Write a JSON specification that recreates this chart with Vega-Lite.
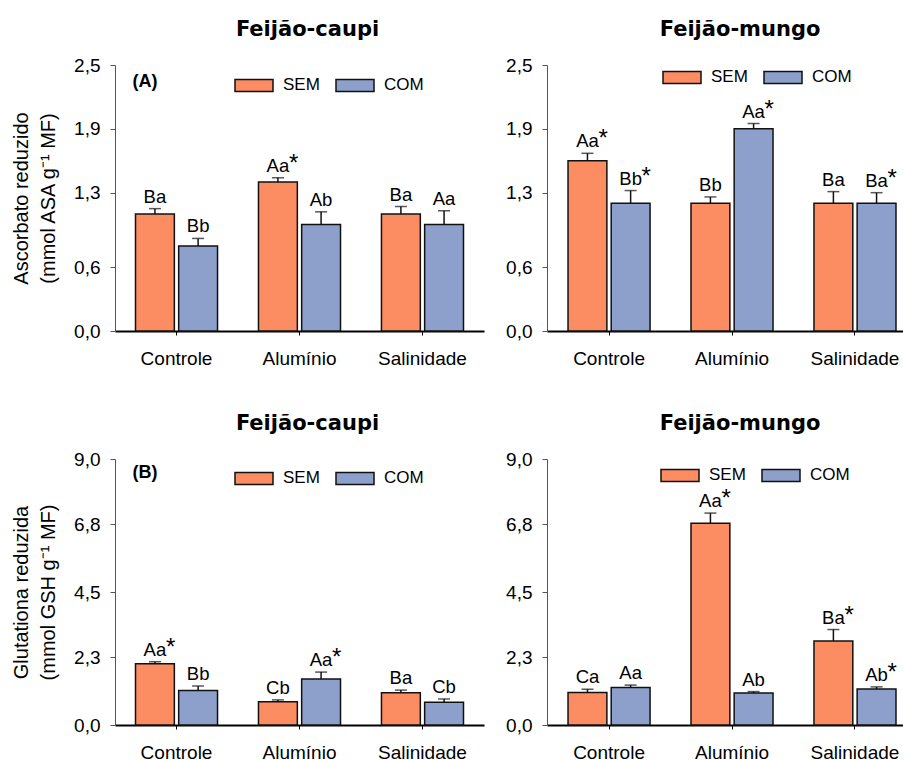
{
  "$schema": "https://vega.github.io/schema/vega-lite/v6.json",
  "padding": {"left": 11, "top": 19, "right": 0, "bottom": 0},
  "background": "white",
  "config": {
    "view": {"stroke": null},
    "font": "Liberation Sans",
    "axis": {"grid": false, "labelFont": "Liberation Sans", "titleFont": "Liberation Sans", "labelColor": "#000", "titleColor": "#000"},
    "title": {"font": "DejaVu Sans", "fontWeight": "bold", "fontSize": 21, "color": "#000", "anchor": "middle", "offset": 16},
    "concat": {"spacing": 21}
  },
  "datasets": {
    "caupi_asa": [
      {"trat": "Controle", "cond": "SEM", "valor": 1.10, "sup": 1.15, "rotulo": "Ba", "ast": ""},
      {"trat": "Controle", "cond": "COM", "valor": 0.80, "sup": 0.87, "rotulo": "Bb", "ast": ""},
      {"trat": "Alumínio", "cond": "SEM", "valor": 1.40, "sup": 1.44, "rotulo": "Aa", "ast": "*"},
      {"trat": "Alumínio", "cond": "COM", "valor": 1.00, "sup": 1.12, "rotulo": "Ab", "ast": ""},
      {"trat": "Salinidade", "cond": "SEM", "valor": 1.10, "sup": 1.17, "rotulo": "Ba", "ast": ""},
      {"trat": "Salinidade", "cond": "COM", "valor": 1.00, "sup": 1.13, "rotulo": "Aa", "ast": ""}
    ],
    "mungo_asa": [
      {"trat": "Controle", "cond": "SEM", "valor": 1.60, "sup": 1.67, "rotulo": "Aa", "ast": "*"},
      {"trat": "Controle", "cond": "COM", "valor": 1.20, "sup": 1.32, "rotulo": "Bb", "ast": "*"},
      {"trat": "Alumínio", "cond": "SEM", "valor": 1.20, "sup": 1.26, "rotulo": "Bb", "ast": ""},
      {"trat": "Alumínio", "cond": "COM", "valor": 1.90, "sup": 1.95, "rotulo": "Aa", "ast": "*"},
      {"trat": "Salinidade", "cond": "SEM", "valor": 1.20, "sup": 1.31, "rotulo": "Ba", "ast": ""},
      {"trat": "Salinidade", "cond": "COM", "valor": 1.20, "sup": 1.30, "rotulo": "Ba", "ast": "*"}
    ],
    "caupi_gsh": [
      {"trat": "Controle", "cond": "SEM", "valor": 2.07, "sup": 2.14, "rotulo": "Aa", "ast": "*"},
      {"trat": "Controle", "cond": "COM", "valor": 1.17, "sup": 1.32, "rotulo": "Bb", "ast": ""},
      {"trat": "Alumínio", "cond": "SEM", "valor": 0.79, "sup": 0.85, "rotulo": "Cb", "ast": ""},
      {"trat": "Alumínio", "cond": "COM", "valor": 1.56, "sup": 1.79, "rotulo": "Aa", "ast": "*"},
      {"trat": "Salinidade", "cond": "SEM", "valor": 1.09, "sup": 1.18, "rotulo": "Ba", "ast": ""},
      {"trat": "Salinidade", "cond": "COM", "valor": 0.77, "sup": 0.88, "rotulo": "Cb", "ast": ""}
    ],
    "mungo_gsh": [
      {"trat": "Controle", "cond": "SEM", "valor": 1.10, "sup": 1.21, "rotulo": "Ca", "ast": ""},
      {"trat": "Controle", "cond": "COM", "valor": 1.27, "sup": 1.35, "rotulo": "Aa", "ast": ""},
      {"trat": "Alumínio", "cond": "SEM", "valor": 6.83, "sup": 7.17, "rotulo": "Aa", "ast": "*"},
      {"trat": "Alumínio", "cond": "COM", "valor": 1.08, "sup": 1.13, "rotulo": "Ab", "ast": ""},
      {"trat": "Salinidade", "cond": "SEM", "valor": 2.84, "sup": 3.23, "rotulo": "Ba", "ast": "*"},
      {"trat": "Salinidade", "cond": "COM", "valor": 1.22, "sup": 1.29, "rotulo": "Ab", "ast": "*"}
    ],
    "paineis": [
      {"painel": "A", "trat": "Controle", "valor": 2.34, "rotulo": "(A)"},
      {"painel": "B", "trat": "Controle", "valor": 8.53, "rotulo": "(B)"}
    ]
  },
  "vconcat": [
    {
      "hconcat": [
        {
          "width": 369, "height": 266,
          "title": {"text": "Feijão-caupi", "dx": 8},
          "layer": [
            {
              "data": {"name": "caupi_asa"},
              "mark": {"type": "bar", "stroke": "#111", "strokeWidth": 1.5},
              "encoding": {
                "x": {"field": "trat", "type": "nominal", "scale": {"domain": ["Controle", "Alumínio", "Salinidade"], "paddingInner": 0.333, "paddingOuter": 0.1667},
                      "axis": {"title": null, "labelAngle": 0, "labelFontSize": 19, "labelPadding": 14, "tickSize": 4, "tickColor": "#000", "domainColor": "#000", "domainWidth": 2}},
                "xOffset": {"field": "cond", "type": "nominal", "scale": {"domain": ["SEM", "COM"], "paddingInner": 0.1, "paddingOuter": 0}},
                "y": {"field": "valor", "type": "quantitative", "scale": {"domain": [0, 2.5], "nice": false},
                      "axis": {"values": [0, 0.6, 1.3, 1.9, 2.5], "labelExpr": "replace(format(datum.value, '.1f'), '.', ',')", "labelFontSize": 19, "tickSize": 5, "domainColor": "#555", "tickColor": "#555", "labelPadding": 10,
                               "title": ["Ascorbato reduzido", "(mmol ASA g⁻¹ MF)"], "titleFontSize": 20, "titleFontWeight": "normal", "titleLineHeight": 27, "titlePadding": 15}},
                "color": {"field": "cond", "type": "nominal", "scale": {"domain": ["SEM", "COM"], "range": ["#FC8D62", "#8DA0CB"]},
                          "legend": {"orient": "none", "legendX": 119, "legendY": 0, "direction": "horizontal", "title": null, "symbolType": "M-1,-0.316H1V0.316H-1Z", "symbolSize": 1444, "symbolStrokeWidth": 1.5, "symbolStrokeColor": "#111", "symbolOpacity": 1, "labelFontSize": 17, "labelOffset": 9, "columnPadding": 13, "padding": 0}}
              }
            },
            {
              "data": {"name": "caupi_asa"},
              "mark": {"type": "rule", "color": "#111", "strokeWidth": 1.5},
              "encoding": {
                "x": {"field": "trat", "type": "nominal"},
                "xOffset": {"field": "cond", "type": "nominal"},
                "y": {"field": "valor", "type": "quantitative"},
                "y2": {"field": "sup"}
              }
            },
            {
              "data": {"name": "caupi_asa"},
              "mark": {"type": "tick", "color": "#111", "thickness": 1.5, "size": 12, "orient": "horizontal"},
              "encoding": {
                "x": {"field": "trat", "type": "nominal"},
                "xOffset": {"field": "cond", "type": "nominal"},
                "y": {"field": "sup", "type": "quantitative"}
              }
            },
            {
              "data": {"name": "caupi_asa"},
              "mark": {"type": "text", "fontSize": 18.5, "baseline": "alphabetic", "dy": -6, "color": "#000"},
              "encoding": {
                "x": {"field": "trat", "type": "nominal"},
                "xOffset": {"field": "cond", "type": "nominal"},
                "y": {"field": "sup", "type": "quantitative"},
                "text": {"field": "rotulo"}
              }
            },
            {
              "data": {"name": "caupi_asa"},
              "mark": {"type": "text", "fontSize": 24, "baseline": "alphabetic", "align": "left", "dx": 11, "dy": -7, "color": "#000"},
              "encoding": {
                "x": {"field": "trat", "type": "nominal"},
                "xOffset": {"field": "cond", "type": "nominal"},
                "y": {"field": "sup", "type": "quantitative"},
                "text": {"field": "ast"}
              }
            },
            {
              "data": {"name": "paineis"},
              "transform": [{"filter": "datum.painel == 'A'"}],
              "mark": {"type": "text", "fontSize": 18, "fontWeight": "bold", "align": "left", "baseline": "middle", "dx": -3, "color": "#000"},
              "encoding": {
                "x": {"field": "trat", "type": "nominal", "bandPosition": 0},
                "y": {"field": "valor", "type": "quantitative"},
                "text": {"field": "rotulo"}
              }
            }
          ]
        },
        {
          "width": 356, "height": 266,
          "title": {"text": "Feijão-mungo", "dx": 15},
          "layer": [
            {
              "data": {"name": "mungo_asa"},
              "mark": {"type": "bar", "stroke": "#111", "strokeWidth": 1.5},
              "encoding": {
                "x": {"field": "trat", "type": "nominal", "scale": {"domain": ["Controle", "Alumínio", "Salinidade"], "paddingInner": 0.333, "paddingOuter": 0.114, "align": 0.75},
                      "axis": {"title": null, "labelAngle": 0, "labelFontSize": 19, "labelPadding": 14, "tickSize": 4, "tickColor": "#000", "domainColor": "#000", "domainWidth": 2}},
                "xOffset": {"field": "cond", "type": "nominal", "scale": {"domain": ["SEM", "COM"], "paddingInner": 0.1, "paddingOuter": 0}},
                "y": {"field": "valor", "type": "quantitative", "scale": {"domain": [0, 2.5], "nice": false},
                      "axis": {"values": [0, 0.6, 1.3, 1.9, 2.5], "labelExpr": "replace(format(datum.value, '.1f'), '.', ',')", "labelFontSize": 19, "tickSize": 5, "domainColor": "#555", "tickColor": "#555", "labelPadding": 10, "title": null}},
                "color": {"field": "cond", "type": "nominal", "scale": {"domain": ["SEM", "COM"], "range": ["#FC8D62", "#8DA0CB"]},
                          "legend": {"orient": "none", "legendX": 115, "legendY": -8, "direction": "horizontal", "title": null, "symbolType": "M-1,-0.316H1V0.316H-1Z", "symbolSize": 1444, "symbolStrokeWidth": 1.5, "symbolStrokeColor": "#111", "symbolOpacity": 1, "labelFontSize": 17, "labelOffset": 9, "columnPadding": 13, "padding": 0}}
              }
            },
            {
              "data": {"name": "mungo_asa"},
              "mark": {"type": "rule", "color": "#111", "strokeWidth": 1.5},
              "encoding": {
                "x": {"field": "trat", "type": "nominal"},
                "xOffset": {"field": "cond", "type": "nominal"},
                "y": {"field": "valor", "type": "quantitative"},
                "y2": {"field": "sup"}
              }
            },
            {
              "data": {"name": "mungo_asa"},
              "mark": {"type": "tick", "color": "#111", "thickness": 1.5, "size": 12, "orient": "horizontal"},
              "encoding": {
                "x": {"field": "trat", "type": "nominal"},
                "xOffset": {"field": "cond", "type": "nominal"},
                "y": {"field": "sup", "type": "quantitative"}
              }
            },
            {
              "data": {"name": "mungo_asa"},
              "mark": {"type": "text", "fontSize": 18.5, "baseline": "alphabetic", "dy": -6, "color": "#000"},
              "encoding": {
                "x": {"field": "trat", "type": "nominal"},
                "xOffset": {"field": "cond", "type": "nominal"},
                "y": {"field": "sup", "type": "quantitative"},
                "text": {"field": "rotulo"}
              }
            },
            {
              "data": {"name": "mungo_asa"},
              "mark": {"type": "text", "fontSize": 24, "baseline": "alphabetic", "align": "left", "dx": 11, "dy": -7, "color": "#000"},
              "encoding": {
                "x": {"field": "trat", "type": "nominal"},
                "xOffset": {"field": "cond", "type": "nominal"},
                "y": {"field": "sup", "type": "quantitative"},
                "text": {"field": "ast"}
              }
            }
          ]
        }
      ],
      "resolve": {"scale": {"x": "independent", "y": "independent", "xOffset": "independent", "color": "independent"}, "legend": {"color": "independent"}}
    },
    {
      "hconcat": [
        {
          "width": 369, "height": 266,
          "title": {"text": "Feijão-caupi", "dx": 8},
          "layer": [
            {
              "data": {"name": "caupi_gsh"},
              "mark": {"type": "bar", "stroke": "#111", "strokeWidth": 1.5},
              "encoding": {
                "x": {"field": "trat", "type": "nominal", "scale": {"domain": ["Controle", "Alumínio", "Salinidade"], "paddingInner": 0.333, "paddingOuter": 0.1667},
                      "axis": {"title": null, "labelAngle": 0, "labelFontSize": 19, "labelPadding": 14, "tickSize": 4, "tickColor": "#000", "domainColor": "#000", "domainWidth": 2}},
                "xOffset": {"field": "cond", "type": "nominal", "scale": {"domain": ["SEM", "COM"], "paddingInner": 0.1, "paddingOuter": 0}},
                "y": {"field": "valor", "type": "quantitative", "scale": {"domain": [0, 9], "nice": false},
                      "axis": {"values": [0, 2.3, 4.5, 6.8, 9], "labelExpr": "replace(format(datum.value, '.1f'), '.', ',')", "labelFontSize": 19, "tickSize": 5, "domainColor": "#555", "tickColor": "#555", "labelPadding": 10,
                               "title": ["Glutationa reduzida", "(mmol GSH g⁻¹ MF)"], "titleFontSize": 20, "titleFontWeight": "normal", "titleLineHeight": 27, "titlePadding": 15}},
                "color": {"field": "cond", "type": "nominal", "scale": {"domain": ["SEM", "COM"], "range": ["#FC8D62", "#8DA0CB"]},
                          "legend": {"orient": "none", "legendX": 119, "legendY": -1, "direction": "horizontal", "title": null, "symbolType": "M-1,-0.316H1V0.316H-1Z", "symbolSize": 1444, "symbolStrokeWidth": 1.5, "symbolStrokeColor": "#111", "symbolOpacity": 1, "labelFontSize": 17, "labelOffset": 9, "columnPadding": 13, "padding": 0}}
              }
            },
            {
              "data": {"name": "caupi_gsh"},
              "mark": {"type": "rule", "color": "#111", "strokeWidth": 1.5},
              "encoding": {
                "x": {"field": "trat", "type": "nominal"},
                "xOffset": {"field": "cond", "type": "nominal"},
                "y": {"field": "valor", "type": "quantitative"},
                "y2": {"field": "sup"}
              }
            },
            {
              "data": {"name": "caupi_gsh"},
              "mark": {"type": "tick", "color": "#111", "thickness": 1.5, "size": 12, "orient": "horizontal"},
              "encoding": {
                "x": {"field": "trat", "type": "nominal"},
                "xOffset": {"field": "cond", "type": "nominal"},
                "y": {"field": "sup", "type": "quantitative"}
              }
            },
            {
              "data": {"name": "caupi_gsh"},
              "mark": {"type": "text", "fontSize": 18.5, "baseline": "alphabetic", "dy": -6, "color": "#000"},
              "encoding": {
                "x": {"field": "trat", "type": "nominal"},
                "xOffset": {"field": "cond", "type": "nominal"},
                "y": {"field": "sup", "type": "quantitative"},
                "text": {"field": "rotulo"}
              }
            },
            {
              "data": {"name": "caupi_gsh"},
              "mark": {"type": "text", "fontSize": 24, "baseline": "alphabetic", "align": "left", "dx": 11, "dy": -7, "color": "#000"},
              "encoding": {
                "x": {"field": "trat", "type": "nominal"},
                "xOffset": {"field": "cond", "type": "nominal"},
                "y": {"field": "sup", "type": "quantitative"},
                "text": {"field": "ast"}
              }
            },
            {
              "data": {"name": "paineis"},
              "transform": [{"filter": "datum.painel == 'B'"}],
              "mark": {"type": "text", "fontSize": 18, "fontWeight": "bold", "align": "left", "baseline": "middle", "dx": -3, "color": "#000"},
              "encoding": {
                "x": {"field": "trat", "type": "nominal", "bandPosition": 0},
                "y": {"field": "valor", "type": "quantitative"},
                "text": {"field": "rotulo"}
              }
            }
          ]
        },
        {
          "width": 356, "height": 266,
          "title": {"text": "Feijão-mungo", "dx": 15},
          "layer": [
            {
              "data": {"name": "mungo_gsh"},
              "mark": {"type": "bar", "stroke": "#111", "strokeWidth": 1.5},
              "encoding": {
                "x": {"field": "trat", "type": "nominal", "scale": {"domain": ["Controle", "Alumínio", "Salinidade"], "paddingInner": 0.333, "paddingOuter": 0.114, "align": 0.75},
                      "axis": {"title": null, "labelAngle": 0, "labelFontSize": 19, "labelPadding": 14, "tickSize": 4, "tickColor": "#000", "domainColor": "#000", "domainWidth": 2}},
                "xOffset": {"field": "cond", "type": "nominal", "scale": {"domain": ["SEM", "COM"], "paddingInner": 0.1, "paddingOuter": 0}},
                "y": {"field": "valor", "type": "quantitative", "scale": {"domain": [0, 9], "nice": false},
                      "axis": {"values": [0, 2.3, 4.5, 6.8, 9], "labelExpr": "replace(format(datum.value, '.1f'), '.', ',')", "labelFontSize": 19, "tickSize": 5, "domainColor": "#555", "tickColor": "#555", "labelPadding": 10, "title": null}},
                "color": {"field": "cond", "type": "nominal", "scale": {"domain": ["SEM", "COM"], "range": ["#FC8D62", "#8DA0CB"]},
                          "legend": {"orient": "none", "legendX": 113, "legendY": -4, "direction": "horizontal", "title": null, "symbolType": "M-1,-0.316H1V0.316H-1Z", "symbolSize": 1444, "symbolStrokeWidth": 1.5, "symbolStrokeColor": "#111", "symbolOpacity": 1, "labelFontSize": 17, "labelOffset": 9, "columnPadding": 13, "padding": 0}}
              }
            },
            {
              "data": {"name": "mungo_gsh"},
              "mark": {"type": "rule", "color": "#111", "strokeWidth": 1.5},
              "encoding": {
                "x": {"field": "trat", "type": "nominal"},
                "xOffset": {"field": "cond", "type": "nominal"},
                "y": {"field": "valor", "type": "quantitative"},
                "y2": {"field": "sup"}
              }
            },
            {
              "data": {"name": "mungo_gsh"},
              "mark": {"type": "tick", "color": "#111", "thickness": 1.5, "size": 12, "orient": "horizontal"},
              "encoding": {
                "x": {"field": "trat", "type": "nominal"},
                "xOffset": {"field": "cond", "type": "nominal"},
                "y": {"field": "sup", "type": "quantitative"}
              }
            },
            {
              "data": {"name": "mungo_gsh"},
              "mark": {"type": "text", "fontSize": 18.5, "baseline": "alphabetic", "dy": -6, "color": "#000"},
              "encoding": {
                "x": {"field": "trat", "type": "nominal"},
                "xOffset": {"field": "cond", "type": "nominal"},
                "y": {"field": "sup", "type": "quantitative"},
                "text": {"field": "rotulo"}
              }
            },
            {
              "data": {"name": "mungo_gsh"},
              "mark": {"type": "text", "fontSize": 24, "baseline": "alphabetic", "align": "left", "dx": 11, "dy": -7, "color": "#000"},
              "encoding": {
                "x": {"field": "trat", "type": "nominal"},
                "xOffset": {"field": "cond", "type": "nominal"},
                "y": {"field": "sup", "type": "quantitative"},
                "text": {"field": "ast"}
              }
            }
          ]
        }
      ],
      "resolve": {"scale": {"x": "independent", "y": "independent", "xOffset": "independent", "color": "independent"}, "legend": {"color": "independent"}}
    }
  ],
  "spacing": 45
}
